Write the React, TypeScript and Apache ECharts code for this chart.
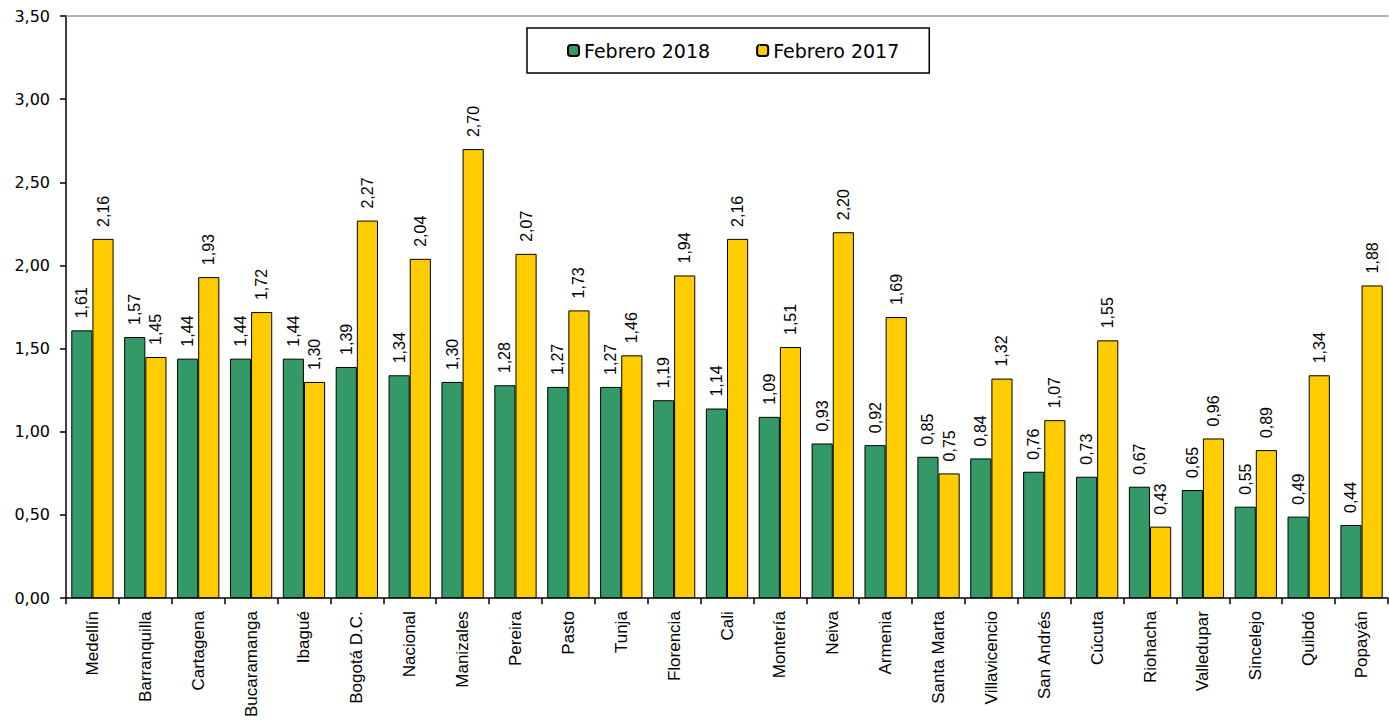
import React, { useEffect, useRef } from "react";
import * as echarts from "echarts";

const categories = [
  "Medellín", "Barranquilla", "Cartagena", "Bucaramanga", "Ibagué", "Bogotá D.C.",
  "Nacional", "Manizales", "Pereira", "Pasto", "Tunja", "Florencia", "Cali",
  "Montería", "Neiva", "Armenia", "Santa Marta", "Villavicencio", "San Andrés",
  "Cúcuta", "Riohacha", "Valledupar", "Sincelejo", "Quibdó", "Popayán",
];

const feb2018 = [
  1.61, 1.57, 1.44, 1.44, 1.44, 1.39, 1.34, 1.30, 1.28, 1.27, 1.27, 1.19, 1.14,
  1.09, 0.93, 0.92, 0.85, 0.84, 0.76, 0.73, 0.67, 0.65, 0.55, 0.49, 0.44,
];

const feb2017 = [
  2.16, 1.45, 1.93, 1.72, 1.30, 2.27, 2.04, 2.70, 2.07, 1.73, 1.46, 1.94, 2.16,
  1.51, 2.20, 1.69, 0.75, 1.32, 1.07, 1.55, 0.43, 0.96, 0.89, 1.34, 1.88,
];

const seriesNames = ["Febrero 2018", "Febrero 2017"];

const FONT = "'Liberation Sans', Arial, sans-serif";
const WIDE = "'DejaVu Sans', 'Liberation Sans', Arial, sans-serif";
const fmt = (v: number) => v.toFixed(2).replace(".", ",");

export default function App() {
  const ref = useRef<HTMLDivElement>(null);

  useEffect(() => {
    if (!ref.current) return;
    const chart = echarts.init(ref.current, null, { renderer: "svg" });
    const label = {
      show: true,
      position: "top" as const,
      rotate: 90,
      align: "left" as const,
      verticalAlign: "middle" as const,
      distance: 12,
      color: "#000",
      fontSize: 16,
      fontFamily: FONT,
      formatter: (p: any) => fmt(p.value),
    };
    chart.setOption({
      animation: false,
      backgroundColor: "#fff",
      textStyle: { fontFamily: FONT },
      grid: { left: 66, right: 1, top: 16, bottom: 121, containLabel: false },
      legend: {
        left: 527,
        top: 28,
        orient: "horizontal",
        padding: [13, 30, 13, 40],
        itemGap: 46,
        itemWidth: 11,
        itemHeight: 11,
        borderColor: "#000",
        borderWidth: 1.5,
        textStyle: { fontSize: 19, color: "#000", fontFamily: WIDE },
        data: seriesNames,
      },
      xAxis: [
        {
          type: "category",
          data: categories,
          axisLine: { lineStyle: { color: "#000", width: 1.5 } },
          axisTick: { show: true, length: 6, lineStyle: { color: "#000", width: 1.5 } },
          axisLabel: {
            rotate: 90,
            interval: 0,
            fontSize: 17,
            color: "#000",
            fontFamily: FONT,
            margin: 13,
          },
        },
        {
          type: "category",
          position: "top",
          data: categories,
          axisLine: { show: true, lineStyle: { color: "#999", width: 1.5 } },
          axisTick: { show: false },
          axisLabel: { show: false },
        },
      ],
      yAxis: {
        type: "value",
        min: 0,
        max: 3.5,
        interval: 0.5,
        axisLine: { show: true, lineStyle: { color: "#000", width: 1.5 } },
        axisTick: { show: true, length: 6, lineStyle: { color: "#000", width: 1.5 } },
        splitLine: { show: false },
        axisLabel: {
          fontSize: 16,
          color: "#000",
          fontFamily: WIDE,
          margin: 16,
          formatter: (v: number) => fmt(v),
        },
      },
      series: [
        {
          name: seriesNames[0],
          type: "bar",
          data: feb2018,
          barGap: "0%",
          barCategoryGap: "20%",
          itemStyle: { color: "#339966", borderColor: "#000", borderWidth: 1 },
          label,
        },
        {
          name: seriesNames[1],
          type: "bar",
          data: feb2017,
          barGap: "0%",
          barCategoryGap: "20%",
          itemStyle: { color: "#FFCC00", borderColor: "#000", borderWidth: 1 },
          label,
        },
      ],
    });
    return () => chart.dispose();
  }, []);

  return (
    <div
      ref={ref}
      style={{ position: "fixed", left: 0, top: 0, width: 1389, height: 720 }}
    />
  );
}
